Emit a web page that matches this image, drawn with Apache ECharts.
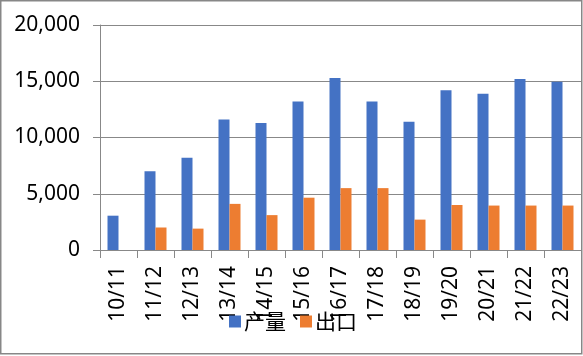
<!DOCTYPE html>
<html>
<head>
<meta charset="utf-8">
<script src="https://cdn.jsdelivr.net/npm/echarts@6/dist/echarts.min.js"></script>
<style>
html,body{margin:0;padding:0;background:#fff;}
#c{width:583px;height:356px;}
</style>
</head>
<body>
<div id="c"></div>
<script>
const categories = ['10/11','11/12','12/13','13/14','14/15','15/16','16/17','17/18','18/19','19/20','20/21','21/22','22/23'];
const production = [3050, 7000, 8200, 11600, 11300, 13200, 15300, 13200, 11400, 14200, 13900, 15200, 14950];
const exports = [0, 2000, 1900, 4100, 3100, 4650, 5500, 5500, 2700, 4000, 3950, 3950, 3950];
const seriesNames = ['产量', '出口'];

const chart = echarts.init(document.getElementById('c'));
const fontFam = '"Noto Sans", "Noto Sans CJK SC", sans-serif';
chart.setOption({
  animation: false,
  graphic: [{
    type: 'rect', silent: true, z: -1,
    shape: {x: 0.75, y: 0.75, width: 581, height: 353},
    style: {fill: 'none', stroke: '#878787', lineWidth: 1.5}
  }],
  grid: {left: 100, right: 2, top: 25, bottom: 106},
  legend: {
    data: seriesNames,
    left: 224, top: 306,
    itemWidth: 12, itemHeight: 12, itemGap: 14,
    icon: 'rect',
    textStyle: {fontSize: 21, color: '#000', fontFamily: '"Noto Sans CJK SC", sans-serif', padding: [0,0,0,-2]}
  },
  xAxis: {
    type: 'category',
    data: categories,
    axisLine: {lineStyle: {color: '#888', width: 1}},
    axisTick: {show: true, length: 8, interval: 0, lineStyle: {color: '#888'}},
    axisLabel: {rotate: 90, fontSize: 21, color: '#000', margin: 16, interval: 0, fontFamily: fontFam}
  },
  yAxis: {
    type: 'value', min: 0, max: 20000, interval: 5000,
    axisLine: {show: true, lineStyle: {color: '#888', width: 1}},
    axisTick: {show: true, length: 7, lineStyle: {color: '#888'}},
    splitLine: {lineStyle: {color: '#888', width: 1}},
    axisLabel: {fontSize: 21, color: '#000', margin: 20, fontFamily: fontFam,
      formatter: v => v.toLocaleString('en-US')}
  },
  series: [
    {name: seriesNames[0], type: 'bar', data: production, barWidth: 11, barGap: '0%', itemStyle: {color: '#4472C4'}},
    {name: seriesNames[1], type: 'bar', data: exports, barWidth: 11, itemStyle: {color: '#ED7D31'}}
  ]
});
</script>
</body>
</html>
